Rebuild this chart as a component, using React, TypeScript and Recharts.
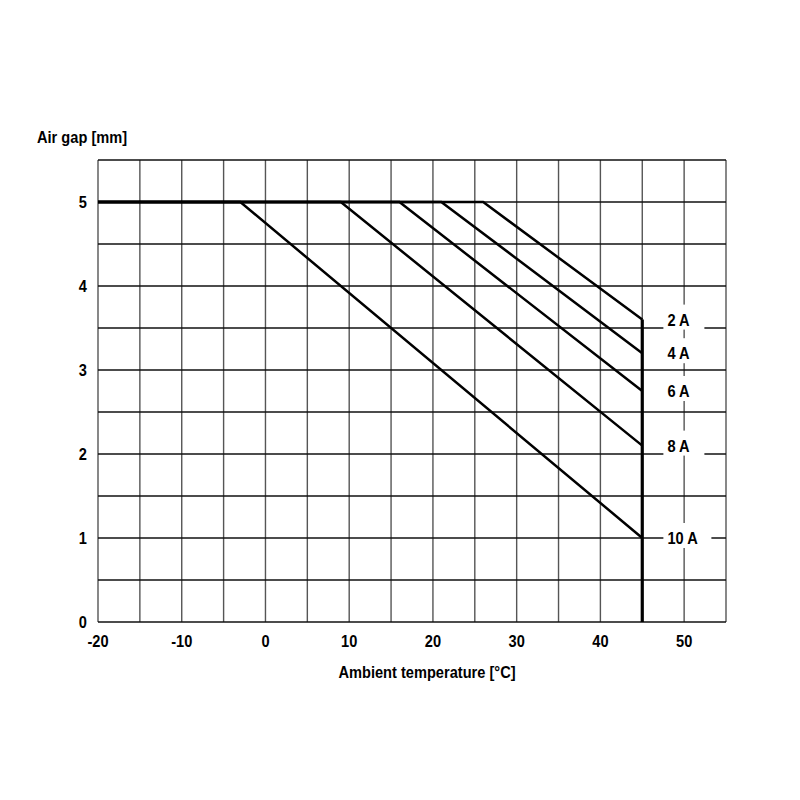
import React from 'react';
import { LineChart, Line, XAxis, YAxis, CartesianGrid, ReferenceDot } from 'recharts';

const xGridTicks = [-20, -15, -10, -5, 0, 5, 10, 15, 20, 25, 30, 35, 40, 45, 50, 55];
const xLabelTicks = [-20, -10, 0, 10, 20, 30, 40, 50];
const yGridTicks = [0, 0.5, 1, 1.5, 2, 2.5, 3, 3.5, 4, 4.5, 5, 5.5];
const yLabelTicks = [0, 1, 2, 3, 4, 5];

const currents = ['2 A', '4 A', '6 A', '8 A', '10 A'];
const kneeTemps = [26, 21, 16, 9, -3];
const endGaps = [3.6, 3.2, 2.75, 2.1, 1.0];
const maxGap = 5;
const minTemp = -20;
const maxTemp = 45;
const labelTemp = 48;

const seriesData = currents.map((c, i) => [
  { t: minTemp, g: maxGap },
  { t: kneeTemps[i], g: maxGap },
  { t: maxTemp, g: endGaps[i] },
]);
const cutoffData = [
  { t: maxTemp, g: 0 },
  { t: maxTemp, g: Math.max(...endGaps) },
];

const FONT = '"Liberation Sans", Arial, sans-serif';
const textStyle = { fontFamily: FONT, fontWeight: 700, fontSize: 17, fill: '#000' };
const SX = 0.86;

function NarrowText({ x, y, anchor, children }: any) {
  return (
    <g transform={`translate(${x},${y}) scale(${SX},1)`}>
      <text x={0} y={0} textAnchor={anchor} style={textStyle}>
        {children}
      </text>
    </g>
  );
}

const XTick = (props: any) => {
  const v = props.payload?.value;
  if (!xLabelTicks.includes(v)) return <g />;
  return (
    <NarrowText x={props.x} y={props.y + 12} anchor="middle">
      {String(v)}
    </NarrowText>
  );
};

const YTick = (props: any) => {
  const v = props.payload?.value;
  if (!yLabelTicks.includes(v)) return <g />;
  return (
    <NarrowText x={props.x} y={props.y + 6} anchor="end">
      {String(v)}
    </NarrowText>
  );
};

export default function App() {
  return (
    <div style={{ width: 790, height: 720 }}>
      <LineChart width={790} height={720} margin={{ top: 152, right: 72, bottom: 66, left: 30 }}>
        <CartesianGrid horizontal={false} stroke="#555" strokeWidth={1.4} />
        <CartesianGrid vertical={false} stroke="#111" strokeWidth={1.3} />
        <XAxis
          type="number"
          dataKey="t"
          domain={[-20, 55]}
          ticks={xGridTicks}
          interval={0}
          allowDataOverflow
          axisLine={false}
          tickLine={false}
          tickMargin={7}
          height={40}
          tick={<XTick />}
          label={{
            content: (props: any) => {
              const vb = props.viewBox || {};
              return (
                <NarrowText x={vb.x + vb.width / 2 + 15} y={vb.y + 56} anchor="middle">
                  Ambient temperature [°C]
                </NarrowText>
              );
            },
          }}
        />
        <YAxis
          type="number"
          dataKey="g"
          domain={[0, 5.5]}
          ticks={yGridTicks}
          interval={0}
          allowDataOverflow
          axisLine={false}
          tickLine={false}
          tickMargin={5}
          width={60}
          tick={<YTick />}
          label={{
            content: (props: any) => {
              const vb = props.viewBox || {};
              return (
                <NarrowText x={vb.x - 1} y={vb.y - 17} anchor="start">
                  Air gap [mm]
                </NarrowText>
              );
            },
          }}
        />
        {seriesData.map((d, i) => (
          <Line
            key={currents[i]}
            data={d}
            dataKey="g"
            type="linear"
            stroke="#000"
            strokeWidth={2.5}
            dot={false}
            activeDot={false}
            isAnimationActive={false}
          />
        ))}
        <Line
          data={cutoffData}
          dataKey="g"
          type="linear"
          stroke="#000"
          strokeWidth={3.2}
          dot={false}
          activeDot={false}
          isAnimationActive={false}
        />
        {currents.map((c, i) => (
          <ReferenceDot
            key={'lbl' + c}
            x={labelTemp}
            y={endGaps[i]}
            r={0}
            ifOverflow="visible"
            shape={(p: any) => (
              <g>
                <rect x={p.cx - 4} y={p.cy - 15} width={c.length * 7 + 20} height={25} fill="#fff" />
                <NarrowText x={p.cx} y={p.cy + 6} anchor="start">
                  {c}
                </NarrowText>
              </g>
            )}
          />
        ))}
      </LineChart>
    </div>
  );
}
